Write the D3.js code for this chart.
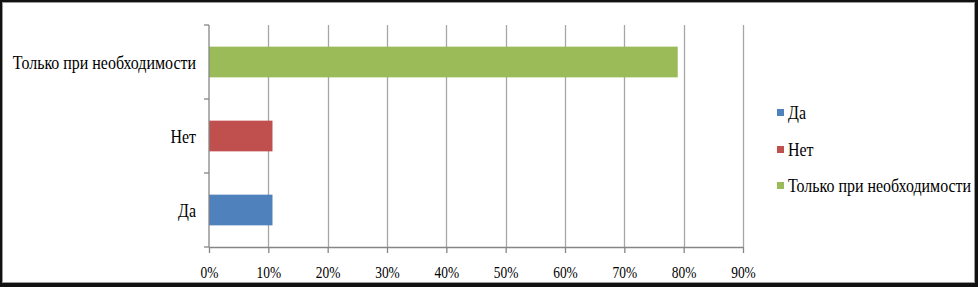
<!DOCTYPE html>
<html><head><meta charset="utf-8">
<script src="https://cdn.jsdelivr.net/npm/d3@7"></script>
<style>
html,body{margin:0;padding:0;background:#fff;}
svg text{font-family:"Liberation Serif","Times New Roman",serif;fill:#000;}
</style></head>
<body>
<svg id="c" width="978" height="287"></svg>
<script>
const categories = ["Да", "Нет", "Только при необходимости"];
const values = [0.107, 0.107, 0.79];
const colors = ["#4f81bd", "#c0504d", "#9bbb59"];
const tickValues = [0, 0.1, 0.2, 0.3, 0.4, 0.5, 0.6, 0.7, 0.8, 0.9];
const tickLabels = ["0%", "10%", "20%", "30%", "40%", "50%", "60%", "70%", "80%", "90%"];

const svg = d3.select("#c");
const W = 978, H = 287;
const SX = 0.84; // horizontal text compression seen in reference

// frame
svg.append("rect").attr("x",0).attr("y",0).attr("width",W).attr("height",H).attr("fill","#111");
svg.append("rect").attr("x",2.5).attr("y",2.5).attr("width",972).attr("height",280)
  .attr("fill","#fff").attr("stroke","#9a9a9a").attr("stroke-width",1);

const x = d3.scaleLinear().domain([0, 0.9]).range([209, 743]);
const y = d3.scaleBand().domain(categories).range([247, 25]).paddingInner(0).paddingOuter(0);

// gridlines
svg.append("g").selectAll("line").data(tickValues.slice(1)).join("line")
  .attr("x1", d => Math.round(x(d)) + 0.5).attr("x2", d => Math.round(x(d)) + 0.5)
  .attr("y1", 25).attr("y2", 247)
  .attr("stroke", "#a6a6a6").attr("stroke-width", 1.3);

// bars
const barH = y.bandwidth() * 0.415;
svg.append("g").selectAll("rect").data(categories).join("rect")
  .attr("x", x(0))
  .attr("y", d => y(d) + (y.bandwidth() - barH) / 2)
  .attr("width", (d, i) => x(values[i]) - x(0))
  .attr("height", barH)
  .attr("fill", (d, i) => colors[i]);

// x axis
const xAxis = d3.axisBottom(x).tickValues(tickValues).tickFormat((d, i) => tickLabels[i]).tickSize(6).tickSizeOuter(0);
const gx = svg.append("g").attr("transform", "translate(0,247)").call(xAxis);
gx.select(".domain").attr("stroke", "#868686").attr("stroke-width", 1.3);
gx.selectAll(".tick line").attr("stroke", "#868686").attr("stroke-width", 1.3);
gx.selectAll(".tick text").attr("font-size", 16).attr("font-family", "Liberation Serif").attr("fill", "#000")
  .attr("y", 0).attr("dy", 0)
  .attr("transform", "translate(0,30.5) scale(" + SX + ",1)");

// y axis
const yAxis = d3.axisLeft(y).tickSize(0).tickFormat(() => "");
const gy = svg.append("g").attr("transform", "translate(209,0)").call(yAxis);
gy.select(".domain").attr("stroke", "#868686").attr("stroke-width", 1.3).attr("d", "M0,25V247");
// boundary ticks
const bounds = [y.range()[1]].concat(categories.map(c => y(c) + y.bandwidth()));
gy.append("g").selectAll("line").data(bounds).join("line")
  .attr("x1", -5).attr("x2", 0).attr("y1", d => d).attr("y2", d => d)
  .attr("stroke", "#868686").attr("stroke-width", 1.3);

// category labels
svg.append("g").selectAll("text").data(categories).join("text")
  .attr("transform", d => "translate(196," + (y(d) + y.bandwidth() / 2 + 7) + ") scale(" + SX + ",1)")
  .attr("text-anchor", "end").attr("font-size", 19)
  .text(d => d);

// legend
const legY = [119, 156, 192];
const leg = svg.append("g").selectAll("g").data(categories).join("g")
  .attr("transform", (d, i) => "translate(777," + legY[i] + ")");
leg.append("rect").attr("x", 0).attr("y", -10).attr("width", 7).attr("height", 7).attr("fill", (d, i) => colors[i]);
leg.append("text").attr("transform", "translate(11,0) scale(" + SX + ",1)").attr("font-size", 19).text(d => d);
</script>
</body></html>
